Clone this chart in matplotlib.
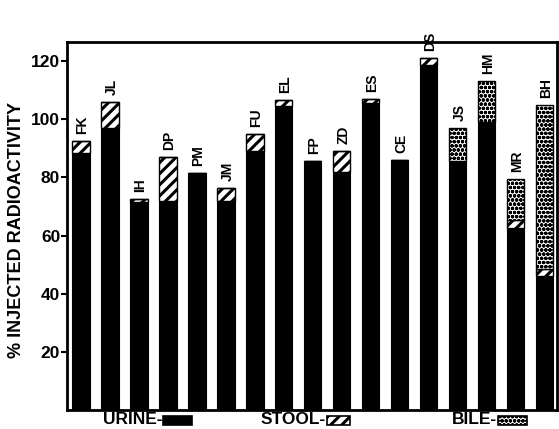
import numpy as np
import matplotlib
matplotlib.use("Agg")
import matplotlib.pyplot as plt
from matplotlib.patches import Rectangle

# Data
subjects = ["FK", "JL", "IH", "DP", "PM", "JM", "FU", "EL", "FP", "ZD",
            "ES", "CE", "DS", "JS", "HM", "MR", "BH"]
urine = [88.5, 97, 71.5, 72, 81.5, 72, 89, 104.5, 85.5, 82,
         105.5, 86, 118.5, 85.5, 99, 62.5, 46]
stool = [4, 9, 1, 15, 0, 4.5, 6, 2, 0, 7,
         1.5, 0, 2.5, 0, 0, 3, 2.5]
bile = [0, 0, 0, 0, 0, 0, 0, 0, 0, 0,
        0, 0, 0, 11.5, 14, 14, 56.5]
y_ticks = [20, 40, 60, 80, 100, 120]

plt.rcParams['font.family'] = ['Liberation Sans', 'DejaVu Sans']
plt.rcParams['font.weight'] = 'bold'
plt.rcParams['hatch.linewidth'] = 2.0

fig = plt.figure(figsize=(5.59, 4.29), dpi=100)
ax = fig.add_axes([0.120, 0.044, 0.876, 0.858])

x = np.arange(len(subjects))
urine = np.array(urine)
stool = np.array(stool)
bile = np.array(bile)
width = 0.59


def set_hlw(bars, lw):
    for b in bars:
        if hasattr(b, "set_hatch_linewidth"):
            b.set_hatch_linewidth(lw)


ax.bar(x, urine, width, color='black', edgecolor='black', linewidth=0.8)
b_stool = ax.bar(x, stool, width, bottom=urine, facecolor='white',
                 edgecolor='black', hatch='///', linewidth=1.0)
set_hlw(b_stool, 2.2)
b_bile = ax.bar(x, bile, width, bottom=urine + stool, facecolor='white',
                edgecolor='black', hatch='oooo', linewidth=1.0)
set_hlw(b_bile, 1.2)

total = urine + stool + bile
for xi, t, name in zip(x, total, subjects):
    ax.annotate(name, (xi, t), xytext=(1, 5), textcoords='offset points',
                rotation=90, ha='center', va='bottom', fontsize=10,
                fontweight='heavy')

ax.set_xlim(-0.48, 16.41)
ax.set_ylim(0, 126.5)
ax.set_xticks([])
ax.set_yticks(y_ticks)
ax.set_yticklabels([str(v) for v in y_ticks], fontsize=12.5, fontweight='heavy')
ax.tick_params(axis='y', direction='out', length=4, width=1.5, pad=1)
for s in ax.spines.values():
    s.set_linewidth(2)

ax.set_ylabel('% INJECTED RADIOACTIVITY', fontsize=13, fontweight='heavy',
              labelpad=4)
ax.yaxis.set_label_coords(-0.085, 0.49)

# legend along the bottom: text ends right where its swatch begins
ty = 1 - 420 / 429
for label, bx, bw, fc, hatch in [
        ("URINE-", 163, 29, 'black', None),
        ("STOOL-", 327, 23, 'white', '///'),
        ("BILE-", 498, 29, 'white', 'oooo')]:
    fig.text((bx - 1) / 559, ty, label, fontsize=12.5, fontweight='heavy',
             ha='right', va='center')
    r = Rectangle((bx / 559, ty - 4.5 / 429), bw / 559, 9 / 429,
                  transform=fig.transFigure, facecolor=fc,
                  edgecolor='black', hatch=hatch, linewidth=1.2)
    if hatch and hasattr(r, "set_hatch_linewidth"):
        r.set_hatch_linewidth(2.2 if hatch == '///' else 1.2)
    fig.add_artist(r)

fig.savefig("out.png", dpi=100)
